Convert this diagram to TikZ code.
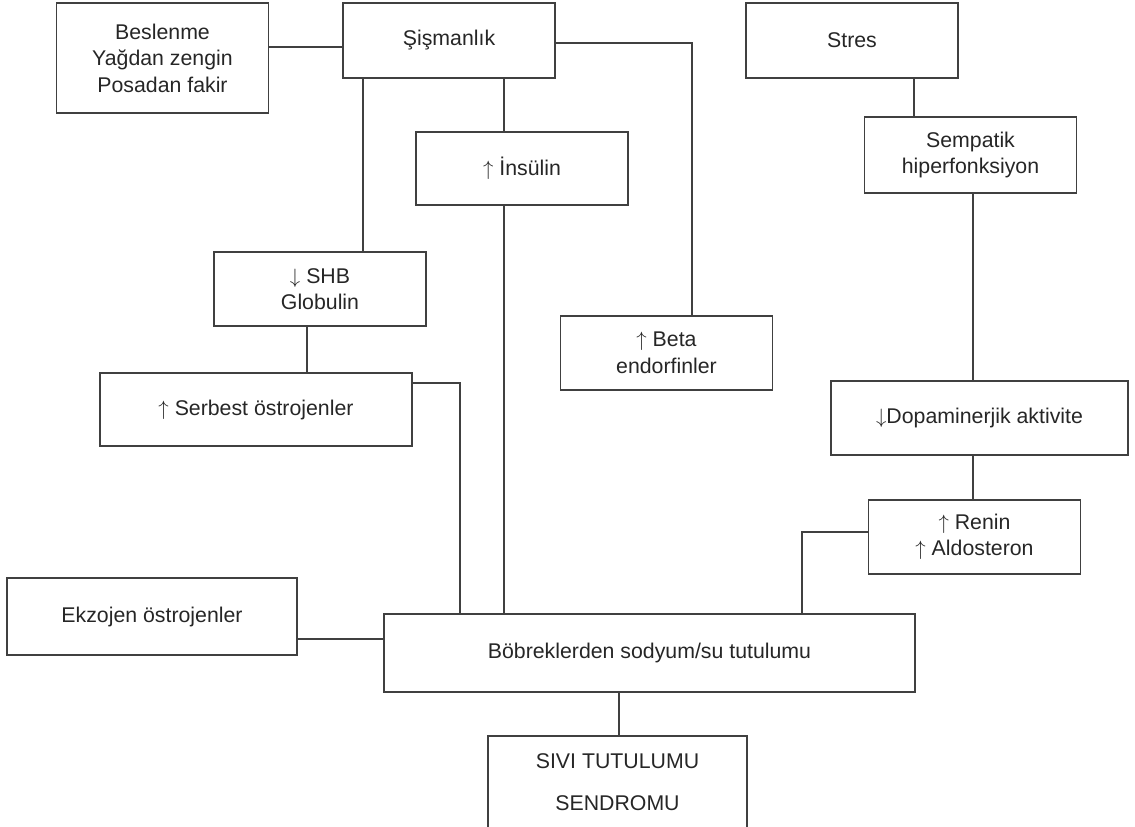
\documentclass[tikz,border=0pt]{standalone}
\usepackage{fontspec}
\setmainfont{Liberation Sans}
\usetikzlibrary{calc,positioning}
\newcommand{\upar}{$\uparrow$}
\newcommand{\dnar}{$\downarrow$}
\begin{document}
\begin{tikzpicture}[x=1pt, y=-1pt, line width=1.3pt, lnk/.style={draw=black!75}]
\tikzstyle{box}=[draw=black!75, line width=1.6pt, inner sep=0pt, minimum width=212pt, minimum height=75pt, align=center, text=black!85, font=\fontsize{21.3}{26.5}\selectfont]
\tikzstyle{every node} = [box];
\useasboundingbox (0,0) rectangle (1135,827);
\node (besl) at (162.5,58) [minimum height=110pt] {Beslenme\\Yağdan zengin\\Posadan fakir};
\node (sism) at (449,40.5) {Şişmanlık};
\node (stres) at (852,40.5) {Stres};
\node (semp) at (970.5,155) [minimum height=76pt] {Sempatik\\hiperfonksiyon};
\node (ins) at (522,168.5) [minimum height=73pt] {\upar\ İnsülin};
\node (shb) at (320,289) [minimum height=74pt] {\dnar\ SHB\\Globulin};
\node (beta) at (666.5,353) [minimum height=74pt] {\upar\ Beta\\endorfinler};
\node (serb) at (256,409.5) [minimum width=312pt, minimum height=73pt] {\upar\ Serbest östrojenler};
\node (dopa) at (979.5,418) [minimum width=297pt, minimum height=74pt] {\dnar Dopaminerjik aktivite};
\node (renin) at (974.5,537) [minimum height=74pt] {\upar\ Renin\\\upar\ Aldosteron};
\node (ekz) at (152,616.5) [minimum width=290pt, minimum height=77pt] {Ekzojen östrojenler};
\node (bobr) at (649.5,653) [minimum width=531pt, minimum height=78pt] {Böbreklerden sodyum/su tutulumu};
\node (sivi) at (617.5,782) [draw=none, minimum width=257pt, minimum height=90pt] {SIVI TUTULUMU\\[16pt]SENDROMU};
\draw[draw=black!75, line width=1.6pt] (sivi.south west) -- (sivi.north west) -- (sivi.north east) -- (sivi.south east);
% levels and columns of the connectors
\coordinate (bs) at (300,47);
\coordinate (shbx) at (363,0);
\coordinate (insx) at (504,0);
\coordinate (betac) at (692,43);
\coordinate (stx) at (914,0);
\coordinate (dopx) at (973,0);
\coordinate (globx) at (307,0);
\coordinate (serbc) at (460,383);
\coordinate (reninc) at (802,532);
\coordinate (ekzy) at (0,639);
\coordinate (sivix) at (619,0);
\draw[lnk] (besl.east |- bs) -- (sism.west |- bs);
\draw[lnk] (sism.south -| shbx) -- (shb.north -| shbx);
\draw[lnk] (sism.south -| insx) -- (ins.north -| insx);
\draw[lnk] (sism.east |- betac) -- (betac) -- (beta.north -| betac);
\draw[lnk] (stres.south -| stx) -- (semp.north -| stx);
\foreach \i/\j in {semp/dopa,dopa/renin}{\draw[lnk] (\i.south -| dopx) -- (\j.north -| dopx);}
\draw[lnk] (shb.south -| globx) -- (serb.north -| globx);
\draw[lnk] (serb.east |- serbc) -- (serbc) -- (bobr.north -| serbc);
\draw[lnk] (ins.south -| insx) -- (bobr.north -| insx);
\draw[lnk] (renin.west |- reninc) -- (reninc) -- (bobr.north -| reninc);
\draw[lnk] (ekz.east |- ekzy) -- (bobr.west |- ekzy);
\draw[lnk] (bobr.south -| sivix) -- (sivi.north -| sivix);
\end{tikzpicture}
\end{document}
